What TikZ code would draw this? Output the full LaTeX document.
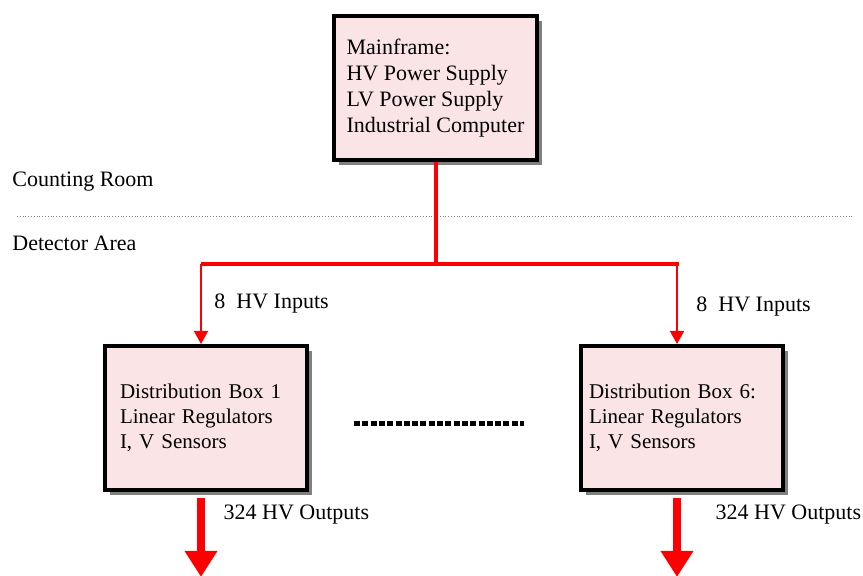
\documentclass[tikz,border=0pt]{standalone}
\usepackage{fontspec}
\setmainfont{Liberation Serif}
\usetikzlibrary{arrows.meta,positioning,calc,shadows}
\definecolor{boxpink}{RGB}{251,228,230}
\definecolor{hvred}{RGB}{255,0,0}
\definecolor{shadowgray}{RGB}{128,128,128}

\begin{document}
\begin{tikzpicture}[x=0.5pt,y=-0.5pt,
    every node/.style={font=\fontsize{11}{13}\selectfont,text=black},
    unitbox/.style={draw,line width=2pt,fill=boxpink,align=left,
      minimum width=101pt,minimum height=72pt,
      drop shadow={shadow xshift=2.5pt,shadow yshift=-2.5pt,opacity=1,fill=shadowgray}},
    distbox/.style={font=\fontsize{10.5}{12.5}\selectfont},
    feed/.style={hvred,line width=2pt},
    feedin/.style={hvred,line width=0.75pt,-{Triangle[width=7pt,length=6.5pt]}},
    feedout/.style={hvred,line width=4pt,shorten <=3pt,-{Triangle[width=15.5pt,length=13pt]}},
    gapdots/.style={line width=2.5pt,dash pattern=on 3pt off 1.15pt}]
  \useasboundingbox (0,0) rectangle (863,576);

  % areas
  \node[anchor=west,inner sep=0pt] (counting) at (12,182) {Counting Room};
  \node[anchor=west,inner sep=0pt] (detector) at (12,243) {Detector Area};
  \draw[gray,line width=0.4pt,densely dotted] (17,216) -- (852,216);

  % boxes
  \node[unitbox,inner xsep=6.5pt] (mainframe) at (435.5,88.5)
    {Mainframe:\\HV Power Supply\\LV Power Supply\\Industrial Computer};
  \node[unitbox,distbox,inner xsep=7pt,text width=86pt] (box1) at (206,418)
    {Distribution Box 1\\Linear Regulators\\I, V Sensors};
  \node[unitbox,distbox,inner xsep=4pt,text width=93pt] (box6) at (682,418)
    {Distribution Box 6:\\Linear Regulators\\I, V Sensors};

  \coordinate (split1) at (201,264);
  \coordinate (split6) at (677,264);
  \coordinate (out1) at (201,577);
  \coordinate (out6) at (677,577);

  % HV feed
  \draw[feed] (mainframe.south) -- (mainframe.south |- split1);
  \draw[feed] (split1) -- ([xshift=1pt]split6);
  \draw[feedin] (split1) --
    node[right=3pt]{8\ \ HV Inputs} (split1 |- box1.north);
  \draw[feedin] (split6) --
    node[right=6pt,yshift=-1.5pt]{8\ \ HV Inputs} (split6 |- box6.north);
  \draw[feedout] (box1.south -| out1) --
    node[pos=0.27,right=6pt]{324 HV Outputs} (out1);
  \draw[feedout] (box6.south -| out6) --
    node[pos=0.27,right=14pt]{324 HV Outputs} (out6);

  % boxes 2..5
  \draw[gapdots] ([shift={(45,5.5)}]box1.east) -- ([shift={(-55,5.5)}]box6.west);
\end{tikzpicture}
\end{document}
